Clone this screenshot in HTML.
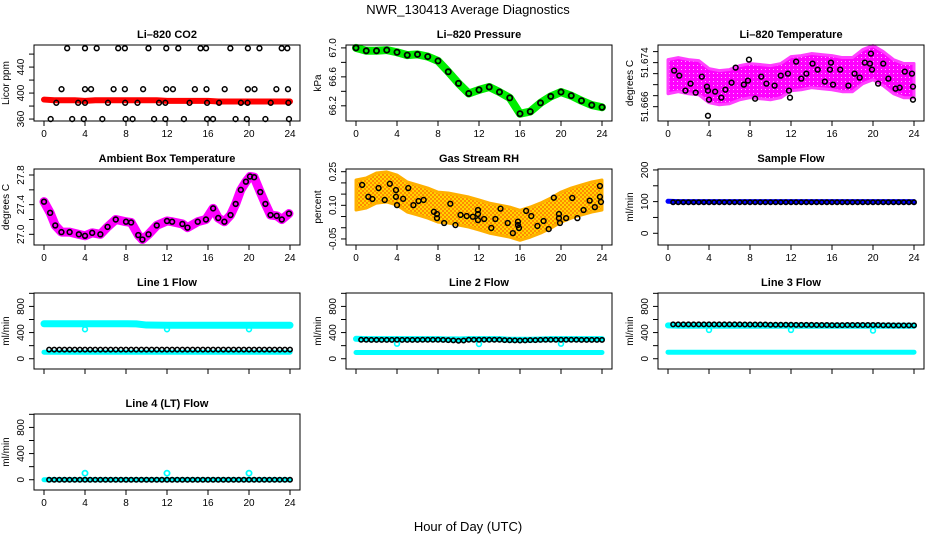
<!DOCTYPE html>
<html><head><meta charset="utf-8"><style>
html,body{margin:0;padding:0;background:#fff}
svg{display:block;font-family:"Liberation Sans",Arial,sans-serif}
</style></head><body>
<svg id="chart" width="936" height="540" viewBox="0 0 936 540">
<defs>
<pattern id="rhpat" width="4" height="4" patternUnits="userSpaceOnUse">
<rect width="4" height="4" fill="#ffd400"/>
<rect width="2" height="2" fill="#ff8c00"/>
<rect x="2" y="2" width="2" height="2" fill="#ff8c00"/>
</pattern>
<pattern id="magpat" width="4" height="4" patternUnits="userSpaceOnUse">
<rect width="4" height="4" fill="#ff00ff"/>
<rect x="1" y="1" width="1" height="1" fill="#ffb0ff"/>
</pattern>
</defs>
<text x="468" y="14" text-anchor="middle" font-size="13">NWR_130413  Average Diagnostics</text>
<text x="468" y="531" text-anchor="middle" font-size="13">Hour of Day (UTC)</text>
</svg>
<script>
// ---------- data ----------
const hours = [0,1,2,3,4,5,6,7,8,9,10,11,12,13,14,15,16,17,18,19,20,21,22,23,24];
const xTicks = [0,4,8,12,16,20,24];

const co2Red = [390,389,389,389,388,389,389,389,389,389,389,389,388,388,388,388,388,387,387,387,387,387,387,387,387];
const co2BlackX = [2.26,4.0,5.14,7.24,7.89,10.19,11.93,13.1,15.27,15.81,18.18,19.89,21.02,23.19,23.74,
 1.71,4.0,4.59,6.79,7.89,9.67,11.93,12.58,14.72,15.85,17.63,19.89,20.54,22.67,23.8,
 1.2,3.33,4.0,6.24,7.92,9.12,11.22,11.84,14.2,15.91,17.08,19.21,19.86,22.12,23.84,
 0.65,2.75,3.88,5.69,7.96,8.64,10.74,11.84,13.65,15.91,16.49,18.69,19.79,21.6,23.9];
const co2BlackY = [469,469,469,469,469,469,469,469,469,469,469,469,469,469,469,
 406,406,406,406,406,406,406,406,406,406,406,406,406,406,406,
 385,385,385,385,385,385,385,385,385,385,385,385,385,385,385,
 360,360,360,360,360,360,360,360,360,360,360,360,360,360,360];

const pressure = [67.0,66.96,66.96,66.97,66.94,66.9,66.91,66.88,66.82,66.67,66.51,66.37,66.42,66.46,66.39,66.31,66.09,66.12,66.24,66.33,66.39,66.34,66.27,66.21,66.18];

const tempMid = [51.67145,51.67182,51.67145,51.67127,51.66982,51.66945,51.66964,51.67036,51.67073,51.67055,51.67036,51.67073,51.672,51.67218,51.67255,51.67236,51.67218,51.67182,51.67182,51.67327,51.674,51.67291,51.67145,51.67073,51.67073];
const tempHalf = 0.0031;
const tempBlackX = [0.6,1.1,1.7,2.2,2.7,3.3,3.8,3.9,4,4.6,5.2,5.6,6.2,6.6,7.4,7.8,7.9,8.5,9.1,9.6,10.4,11,11.7,11.8,11.9,12.5,13,13.5,14.1,14.6,15.3,15.8,15.9,16.1,16.8,17.6,18.2,18.7,19.2,19.7,19.8,19.9,20.5,21,21.5,22.2,22.6,23.1,23.8,23.9,23.9,3.9];
const tempBlackY = [51.67255,51.67164,51.66891,51.67018,51.66855,51.67145,51.66964,51.66891,51.66727,51.66873,51.66764,51.66909,51.67036,51.67309,51.67,51.67073,51.67455,51.66745,51.67145,51.67018,51.66982,51.67164,51.672,51.66891,51.66764,51.67418,51.67109,51.672,51.67382,51.67273,51.67055,51.67273,51.674,51.67,51.67273,51.66982,51.672,51.67127,51.674,51.67382,51.67564,51.67273,51.67018,51.67382,51.67109,51.66927,51.66945,51.67236,51.672,51.66727,51.66964,51.66436];

const ambX = [0,0.6,1.1,1.7,2.5,3.4,4,4.7,5.5,6.2,7,8,8.5,9.2,9.6,10.2,11,12,12.5,13.5,14,15,15.8,16.5,17,17.6,18.2,18.7,19.2,19.7,20.1,20.5,21.1,21.6,22.1,22.7,23.2,23.9];
const ambY = [27.44,27.29,27.12,27.03,27.03,27.0,26.98,27.02,27.0,27.1,27.2,27.17,27.16,26.99,26.93,27.0,27.12,27.18,27.17,27.14,27.09,27.17,27.2,27.35,27.22,27.17,27.26,27.41,27.6,27.71,27.78,27.77,27.57,27.41,27.26,27.25,27.2,27.28];

const rhMid = [0.146,0.155,0.177,0.182,0.168,0.137,0.124,0.110,0.092,0.088,0.079,0.070,0.057,0.043,0.034,0.025,0.011,0.025,0.043,0.065,0.092,0.110,0.124,0.137,0.146];
const rhHalf = 0.067;
const rhBlackX = [0.6,1.2,1.6,2.2,2.8,3.3,3.9,3.9,4,4.6,5.1,5.6,6.1,6.6,7.6,7.9,7.9,8.6,9.2,9.7,10.2,10.8,11.4,11.9,11.9,11.9,12.5,13.2,13.6,14.1,14.8,15.3,15.8,15.8,15.9,16.6,17.1,17.7,18.3,18.8,19.3,19.8,19.8,19.9,20.5,21.1,21.6,22.2,22.8,23.3,23.8,23.8,23.9];
const rhBlackY = [0.191,0.138,0.128,0.177,0.124,0.196,0.168,0.138,0.101,0.129,0.177,0.101,0.119,0.124,0.071,0.061,0.043,0.021,0.107,0.012,0.057,0.052,0.049,0.079,0.061,0.034,0.039,-0.001,0.039,0.085,0.021,-0.024,0.027,0.012,-0.001,0.075,0.052,0.008,0.030,-0.006,0.134,0.061,0.043,0.021,0.043,0.133,0.043,0.079,0.121,0.092,0.186,0.138,0.115];

const halfHours = [0.5,1,1.5,2,2.5,3,3.5,4,4.5,5,5.5,6,6.5,7,7.5,8,8.5,9,9.5,10,10.5,11,11.5,12,12.5,13,13.5,14,14.5,15,15.5,16,16.5,17,17.5,18,18.5,19,19.5,20,20.5,21,21.5,22,22.5,23,23.5,24];
const sampleBlue = [101,100,100,100,100,100,100,100,100,100,100,100,100,100,100,100,100,100,100,100,100,100,100,100,100];
const sampleBlack = [98,98,98,98,98,98,98,98,98,98,98,98,98,98,98,98,98,98,98,98,98,98,98,98,98,98,98,98,98,98,98,98,98,98,98,98,98,98,98,98,98,98,98,98,98,98,98,98];

const line1Upper = [535,535,535,535,535,535,535,535,535,533,515,513,512,512,512,512,512,512,512,512,512,512,512,512,512];
const line1Lower = [100,100,100,100,100,100,100,100,100,100,100,100,100,100,100,100,100,100,100,100,100,100,100,100,100];
const line1Black = [140,140,140,140,140,140,140,140,140,140,140,140,140,140,140,140,140,140,140,140,140,140,140,140,140,140,140,140,140,140,140,140,140,140,140,140,140,140,140,140,140,140,140,140,140,140,140,140];
const line2Upper = [305,300,300,300,300,300,300,300,300,295,295,300,300,300,300,290,290,290,295,300,300,300,300,300,300];
const line2Lower = [95,95,95,95,95,95,95,95,95,95,95,95,95,95,95,95,95,95,95,95,95,95,95,95,95];
const line2Black = [290,290,288,288,288,288,288,290,288,288,288,288,290,290,290,290,288,285,280,275,278,290,290,290,290,290,290,290,285,282,280,278,280,285,285,288,290,290,290,290,290,290,290,288,288,288,288,288];
const line3Upper = [510,505,505,505,505,505,505,505,505,505,505,505,505,505,505,505,505,505,505,505,505,505,505,505,505];
const line3Lower = [100,100,100,100,100,100,100,100,100,100,100,100,100,100,100,100,100,100,100,100,100,100,100,100,100];
const line3Black = [525,525,525,525,525,525,525,525,525,525,525,525,525,525,523,523,523,523,523,520,520,520,520,520,518,518,518,518,515,515,515,513,513,513,515,515,515,515,515,515,515,512,512,510,510,510,510,510];
const line4Upper = [0,0,0,0,0,0,0,0,0,0,0,0,0,0,0,0,0,0,0,0,0,0,0,0,0];
const line4Black = [0,0,0,0,0,0,0,0,0,0,0,0,0,0,0,0,0,0,0,0,0,0,0,0,0,0,0,0,0,0,0,0,0,0,0,0,0,0,0,0,0,0,0,0,0,0,0,0];
const dipX = [4,12,20];
const line1Dip = [450,450,450];
const line2Dip = [230,225,230];
const line3Dip = [440,440,430];
const line4Dip = [100,100,100];

// ---------- helpers ----------
const NS = 'http://www.w3.org/2000/svg';
const svg = document.getElementById('chart');
function mk(tag, attrs, parent){
  const e = document.createElementNS(NS, tag);
  for (const k in attrs) e.setAttribute(k, attrs[k]);
  (parent||svg).appendChild(e);
  return e;
}
const colLeft = [34,346,658];
const rowTop = [45,169,293,414];
const BW = 266, BH = 76;

function panel(col,row,title,ylim,yticks,ylabels,ylab,showXLabels,name){
  const g = mk('g',{});
  
  
  const L = colLeft[col], T = rowTop[row];
  const x = h => L + 10 + h*246/24;
  const y = v => T + BH - (v-ylim[0])/(ylim[1]-ylim[0])*BH;
  const t = mk('text',{x:L+BW/2,y:T-7,'text-anchor':'middle','font-size':11,'font-weight':'bold'},g);
  t.textContent = title;
  
  
  const data = mk('g',{},g);
  
  
  const box = mk('rect',{x:L,y:T,width:BW,height:BH,fill:'none',stroke:'#000','stroke-width':1},g);
  
  
  const xa = mk('g',{},g);
  
  
  xTicks.forEach(h=>{
    mk('line',{x1:x(h),x2:x(h),y1:T+BH,y2:T+BH+5,stroke:'#000'},xa);
    if(showXLabels){
      const l = mk('text',{x:x(h),y:T+BH+16,'text-anchor':'middle','font-size':10},xa);
      l.textContent = h;
      
      
    }
  });
  const ya = mk('g',{},g);
  
  
  yticks.forEach(v=>{ mk('line',{x1:L-5,x2:L,y1:y(v),y2:y(v),stroke:'#000'},ya); });
  ylabels.forEach(v=>{
    const l = mk('text',{x:0,y:0,'text-anchor':'middle','font-size':10,transform:`translate(${L-10},${y(v)}) rotate(-90)`},ya);
    l.textContent = String(v);
    
    
  });
  const yl = mk('text',{x:0,y:0,'text-anchor':'middle','font-size':10,transform:`translate(${L-25},${T+BH/2}) rotate(-90)`},ya);
  yl.textContent = ylab;
  
  
  return {x,y,g:data};
}
function band(p,xs,ys,color,w,name){
  const pts = xs.map((h,i)=>p.x(h)+','+p.y(ys[i])).join(' ');
  const e = mk('polyline',{points:pts,fill:'none',stroke:color,'stroke-width':w,'stroke-linejoin':'round','stroke-linecap':'round'},p.g);
  
  
}
function envelope(p,xs,mid,half,color,stroke,name){
  const up = xs.map((h,i)=>p.x(h)+','+p.y(mid[i]+half));
  const dn = xs.map((h,i)=>p.x(h)+','+p.y(mid[i]-half)).reverse();
  const e = mk('polygon',{points:up.concat(dn).join(' '),fill:color,stroke:stroke,'stroke-width':3,'stroke-linejoin':'round'},p.g);
  
  
}
function circles(p,xs,ys,color,r,sw,name){
  xs.forEach((h,i)=>{
    const c = mk('circle',{cx:p.x(h),cy:p.y(ys[i]),r:r,fill:'none',stroke:color,'stroke-width':sw},p.g);
    
    
  });
}

// ---------- panels ----------
let p;
p = panel(0,0,'Li\u2013820 CO2',[357,474],[360,380,400,420,440,460],[360,400,440],'Licor ppm',true,'co2-panel');
band(p,hours,co2Red,'#ff0000',6,'co2-red-series');
circles(p,co2BlackX,co2BlackY,'#000',2.4,1.5,'co2-point');

p = panel(1,0,'Li\u2013820 Pressure',[65.99,67.04],[66.2,66.4,66.6,66.8,67.0],['66.2','66.6','67.0'],'kPa',true,'pressure-panel');
band(p,hours,pressure,'#00ee00',8,'pressure-green-series');
circles(p,hours,pressure,'#000',2.6,1.8,'pressure-point');

p = panel(2,0,'Li\u2013820 Temperature',[51.6634,51.6772],[51.666,51.668,51.670,51.672,51.674,51.676],['51.666','51.674'],'degrees C',true,'li820-temperature-panel');
envelope(p,hours,tempMid,tempHalf,'url(#magpat)','#ff40ff','temperature-magenta-series');
circles(p,tempBlackX,tempBlackY,'#000',2.4,1.5,'temperature-point');

p = panel(0,1,'Ambient Box Temperature',[26.856,27.881],[27.0,27.2,27.4,27.6,27.8],['27.0','27.4','27.8'],'degrees C',true,'ambient-temperature-panel');
band(p,ambX,ambY,'#ff00ff',9,'ambient-magenta-series');
circles(p,ambX,ambY,'#000',2.4,1.6,'ambient-point');

p = panel(1,1,'Gas Stream RH',[-0.077,0.262],[-0.05,0,0.05,0.10,0.15,0.20,0.25],['-0.05','0.10','0.25'],'percent',true,'gas-rh-panel');
envelope(p,hours,rhMid,rhHalf,'url(#rhpat)','#ffb000','rh-orange-series');
circles(p,rhBlackX,rhBlackY,'#000',2.4,1.5,'rh-point');

p = panel(2,1,'Sample Flow',[-37,203],[0,50,100,150,200],[0,100,200],'ml/min',true,'sample-flow-panel');
band(p,hours,sampleBlue,'#0000ff',5,'sample-blue-series');
circles(p,halfHours,sampleBlack,'#000',2.2,1.6,'sample-point');

const flowTicks=[0,200,400,600,800,1000], flowLabels=[0,400,800], flowLim=[-157,1005];
p = panel(0,2,'Line 1 Flow',flowLim,flowTicks,flowLabels,'ml/min',false,'line1-flow-panel');
band(p,hours,line1Upper,'#00ffff',7,'line1-cyan-upper');
band(p,hours,line1Lower,'#00ffff',5,'line1-cyan-lower');
circles(p,dipX,line1Dip,'#00ffff',2.4,1.6,'line1-dip');
circles(p,halfHours,line1Black,'#000',2.2,1.6,'line1-point');

p = panel(1,2,'Line 2 Flow',flowLim,flowTicks,flowLabels,'ml/min',false,'line2-flow-panel');
band(p,hours,line2Upper,'#00ffff',6,'line2-cyan-upper');
band(p,hours,line2Lower,'#00ffff',5,'line2-cyan-lower');
circles(p,dipX,line2Dip,'#00ffff',2.4,1.6,'line2-dip');
circles(p,halfHours,line2Black,'#000',2.2,1.6,'line2-point');

p = panel(2,2,'Line 3 Flow',flowLim,flowTicks,flowLabels,'ml/min',false,'line3-flow-panel');
band(p,hours,line3Upper,'#00ffff',6,'line3-cyan-upper');
band(p,hours,line3Lower,'#00ffff',5,'line3-cyan-lower');
circles(p,dipX,line3Dip,'#00ffff',2.4,1.6,'line3-dip');
circles(p,halfHours,line3Black,'#000',2.2,1.6,'line3-point');

p = panel(0,3,'Line 4 (LT) Flow',flowLim,flowTicks,flowLabels,'ml/min',true,'line4-flow-panel');
band(p,hours,line4Upper,'#00ffff',5,'line4-cyan-series');
circles(p,dipX,line4Dip,'#00ffff',2.6,1.8,'line4-dip');
circles(p,halfHours,line4Black,'#000',2.2,1.6,'line4-point');
</script>
</body></html>
